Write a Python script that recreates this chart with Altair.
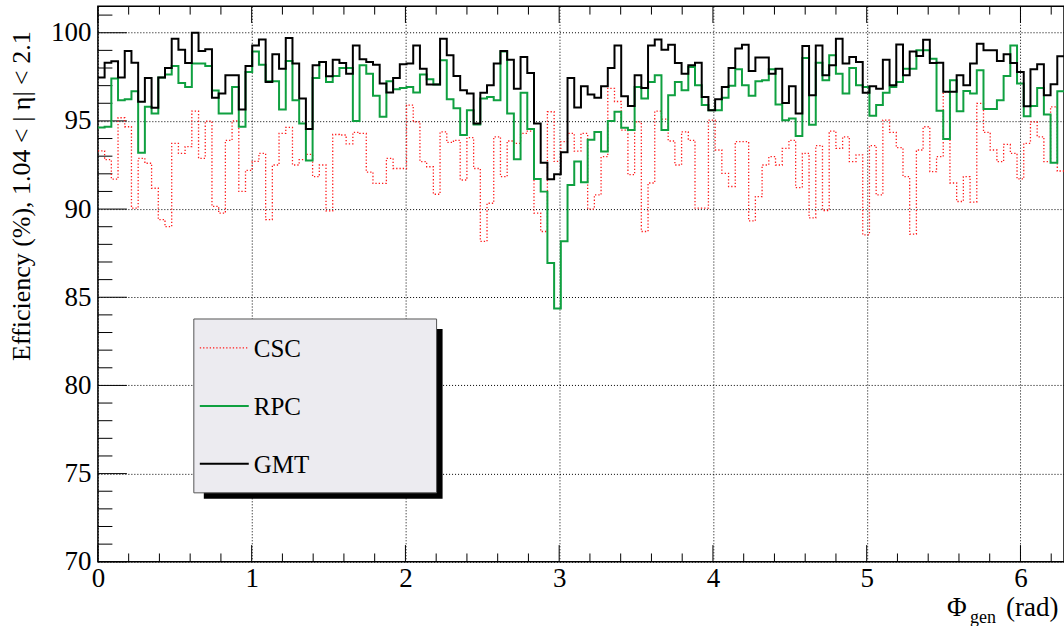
import math

import altair as alt
import pandas as pd

# Efficiency per phi bin (144 bins of 2.5 degrees over 0..2pi)
csc = [
    93.3, 92.8, 91.7, 95.18, 94.67, 90.05, 92.88, 92.6, 91.18, 89.4,
    89.0, 93.73, 93.16, 93.54, 95.55, 92.88, 94.99, 90.15, 89.77, 93.9,
    95.0, 91.0, 92.2, 92.7, 93.16, 89.4, 92.5, 94.29, 94.63, 92.5,
    92.8, 93.1, 91.84, 92.5, 89.9, 94.23, 94.2, 93.7, 94.35, 94.29,
    92.1, 91.46, 91.46, 92.88, 92.3, 92.3, 95.9, 94.95, 92.69, 92.4,
    90.84, 94.38, 93.78, 93.9, 91.65, 94.05, 92.3, 88.17, 90.33, 94.1,
    91.84, 93.86, 93.73, 94.29, 94.42, 89.77, 88.73, 95.52, 92.7, 93.82,
    94.29, 93.29, 94.29, 90.0, 90.8, 92.97, 96.85, 96.1, 94.48, 91.95,
    94.95, 88.73, 91.48, 95.55, 95.1, 93.86, 92.5, 94.38, 93.9, 90.05,
    90.05, 95.04, 93.35, 92.03, 91.28, 93.82, 93.82, 89.33, 90.71, 92.5,
    92.97, 92.5, 93.44, 93.9, 91.22, 93.16, 89.5, 93.6, 89.92, 94.42,
    93.44, 94.1, 92.69, 93.07, 88.54, 93.6, 90.8, 95.04, 94.35, 93.48,
    91.84, 88.58, 93.35, 94.67, 92.12, 92.97, 96.63, 91.48, 90.43, 91.84,
    90.4, 95.99, 94.35, 93.35, 92.69, 93.67, 93.16, 91.71, 93.73, 94.95,
    94.1, 92.69, 95.8, 92.16,
]
rpc = [
    94.63, 94.67, 97.4, 96.17, 96.23, 96.68, 93.2, 95.8, 95.42, 97.46,
    97.63, 98.12, 97.15, 96.93, 98.25, 98.25, 98.12, 96.72, 95.42, 95.42,
    96.93, 94.67, 97.78, 98.94, 98.19, 97.25, 97.25, 95.65, 98.4, 96.17,
    94.86, 92.75, 97.44, 98.34, 97.21, 97.55, 98.0, 98.0, 95.0, 98.15,
    97.68, 96.42, 95.23, 97.25, 96.8, 96.87, 96.93, 96.61, 97.63, 97.36,
    97.06, 98.44, 96.23, 95.72, 94.2, 95.61, 94.8, 96.27, 96.36, 96.17,
    98.94, 95.42, 92.82, 96.59, 94.54, 91.71, 90.99, 86.94, 84.36, 88.17,
    91.37, 92.7, 91.52, 93.93, 94.37, 93.27, 95.0, 95.52, 94.61, 94.48,
    96.93, 96.27, 97.21, 97.59, 94.48, 96.46, 97.21, 96.74, 98.06, 97.02,
    95.9, 95.61, 95.6, 96.31, 96.99, 97.93, 97.02, 96.42, 97.25, 97.31,
    97.93, 95.93, 95.04, 95.14, 94.14, 98.57, 94.78, 98.3, 97.31, 98.72,
    97.68, 96.55, 98.0, 97.02, 96.93, 95.29, 95.9, 96.59, 96.93, 97.21,
    97.96, 97.96, 99.0, 99.0, 98.53, 95.58, 93.97, 97.31, 95.55, 96.7,
    96.55, 97.87, 95.67, 95.67, 96.17, 97.55, 99.28, 97.12, 95.27, 95.85,
    96.87, 95.36, 92.63, 96.68,
]
gmt = [
    97.46, 98.3, 98.38, 97.46, 98.96, 98.3, 96.08, 97.44, 95.74, 97.46,
    98.0, 99.66, 99.04, 98.29, 100.0, 98.96, 99.06, 96.31, 96.55, 97.59,
    97.59, 95.65, 98.12, 99.28, 99.62, 97.21, 98.78, 97.96, 99.7, 98.25,
    96.27, 94.54, 98.15, 98.34, 97.53, 98.47, 98.29, 97.68, 99.28, 98.49,
    98.34, 98.19, 97.12, 96.61, 97.44, 98.21, 98.25, 99.28, 97.96, 97.06,
    97.06, 99.66, 98.72, 97.55, 96.74, 96.55, 94.86, 96.59, 97.02, 98.25,
    98.96, 98.47, 96.83, 98.62, 97.72, 94.86, 92.63, 91.69, 91.97, 93.22,
    97.44, 95.76, 96.97, 96.5, 96.31, 96.97, 98.0, 99.28, 96.4, 95.85,
    97.59, 96.87, 99.28, 99.62, 99.04, 99.32, 98.29, 97.68, 98.15, 98.3,
    96.36, 95.61, 96.23, 96.93, 98.0, 99.1, 99.32, 97.83, 98.59, 98.59,
    97.68, 97.96, 96.02, 96.97, 95.42, 99.25, 96.46, 99.28, 97.59, 98.15,
    99.66, 98.25, 98.62, 98.34, 96.59, 96.97, 96.83, 98.47, 97.02, 99.34,
    97.59, 98.94, 98.68, 99.6, 98.29, 98.3, 96.65, 96.65, 97.59, 97.02,
    98.25, 99.38, 99.0, 99.0, 98.4, 98.78, 98.29, 97.78, 95.83, 97.93,
    98.21, 96.46, 97.08, 98.66,
]

series_names = ["CSC", "RPC", "GMT"]
series_colors = ["#ff1a1a", "#0fa040", "#000000"]

x_labels = [0, 1, 2, 3, 4, 5, 6]
y_labels = [70, 75, 80, 85, 90, 95, 100]

TWO_PI = 2 * math.pi
FONT = "Liberation Serif"
W, H = 967, 556
Y_MIN, Y_MAX = 70, 101.5


def histogram_steps(values, name):
    """Bin edges + contents, last content repeated so the final bin closes at 2pi."""
    width = TWO_PI / len(values)
    edges = [i * width for i in range(len(values))] + [TWO_PI]
    return pd.DataFrame({"phi": edges, "eff": list(values) + [values[-1]], "series": name})


x_scale = alt.Scale(domain=[0, TWO_PI], nice=False, zero=False)
y_scale = alt.Scale(domain=[Y_MIN, Y_MAX], nice=False, zero=False)

# One shared axis definition per channel, reused by every layer so they merge cleanly
grid_style = dict(
    title=None, tickSize=0, domain=False, format="d",
    grid=True, gridDash=[1, 2], gridColor="#000000", gridOpacity=1, gridWidth=1,
    labelFont=FONT, labelFontSize=27, labelColor="#000000",
    labelFlush=False, labelOverlap=False,
)
x_axis = alt.Axis(values=x_labels, labelPadding=4, **grid_style)
y_axis = alt.Axis(values=y_labels, labelPadding=7, **grid_style)


def X(field="phi"):
    return alt.X(f"{field}:Q", scale=x_scale, axis=x_axis)


def Y(field="eff"):
    return alt.Y(f"{field}:Q", scale=y_scale, axis=y_axis)


one = pd.DataFrame({"k": [0]})

# Inward tick marks on the frame
y_major = pd.DataFrame({"eff": y_labels})
y_minor = pd.DataFrame({"eff": [v for v in range(71, 102) if v % 5 != 0]})
x_major = pd.DataFrame({"phi": [float(v) for v in x_labels]})
x_minor = pd.DataFrame({"phi": [round(0.2 * k, 1) for k in range(32) if k % 5 != 0]})

tick_style = dict(color="#000000", strokeWidth=1)
ticks = [
    alt.Chart(y_major).mark_rule(**tick_style).encode(y=Y(), x=alt.value(0), x2=alt.value(29)),
    alt.Chart(y_minor).mark_rule(**tick_style).encode(y=Y(), x=alt.value(0), x2=alt.value(14.5)),
    alt.Chart(x_major).mark_rule(**tick_style).encode(x=X(), y=alt.value(H), y2=alt.value(H - 16.7)),
    alt.Chart(x_minor).mark_rule(**tick_style).encode(x=X(), y=alt.value(H), y2=alt.value(H - 8.3)),
    alt.Chart(x_major).mark_rule(**tick_style).encode(x=X(), y=alt.value(0), y2=alt.value(16.7)),
    alt.Chart(x_minor).mark_rule(**tick_style).encode(x=X(), y=alt.value(0), y2=alt.value(8.3)),
]

# Histograms
line_styles = {
    "CSC": dict(strokeWidth=1.3, strokeDash=[1.3, 2]),
    "RPC": dict(strokeWidth=2),
    "GMT": dict(strokeWidth=2),
}
hist_layers = []
for name, color, values in zip(series_names, series_colors, [csc, rpc, gmt]):
    hist_layers.append(
        alt.Chart(histogram_steps(values, name)).mark_line(
            interpolate="step-after", clip=True, color=color, **line_styles[name]
        ).encode(x=X(), y=Y())
    )

# Legend box with drop shadow
legend_layers = [
    alt.Chart(one).mark_rect(color="#000000").encode(
        x=alt.value(106), x2=alt.value(345), y=alt.value(323), y2=alt.value(493)),
    alt.Chart(one).mark_rect(fill="#ecebf0", stroke="#555555", strokeWidth=1).encode(
        x=alt.value(96), x2=alt.value(339), y=alt.value(313), y2=alt.value(487)),
]
legend_rows = [342, 400, 458]
for name, color, row in zip(series_names, series_colors, legend_rows):
    legend_layers.append(
        alt.Chart(one).mark_rule(color=color, **line_styles[name]).encode(
            x=alt.value(102), x2=alt.value(151), y=alt.value(row)))
    legend_layers.append(
        alt.Chart(one).mark_text(
            text=name, font=FONT, fontSize=25, color="#000000", align="left", baseline="middle"
        ).encode(x=alt.value(156), y=alt.value(row + 1)))

# Axis titles
y_title = alt.Chart(one).mark_text(
    text="Efficiency (%), 1.04 < | η| < 2.1", font=FONT, fontSize=26, color="#000000",
    angle=270, align="right", baseline="alphabetic",
).encode(x=alt.value(-68), y=alt.value(25))

x_title = [
    alt.Chart(one).mark_text(text="Φ", font=FONT, fontSize=27, color="#000000",
                             align="left", baseline="alphabetic").encode(x=alt.value(850), y=alt.value(610)),
    alt.Chart(one).mark_text(text="gen", font=FONT, fontSize=18, color="#000000",
                             align="left", baseline="alphabetic").encode(x=alt.value(873), y=alt.value(617)),
    alt.Chart(one).mark_text(text="(rad)", font=FONT, fontSize=27, color="#000000",
                             align="left", baseline="alphabetic").encode(x=alt.value(909), y=alt.value(610)),
]

chart = alt.layer(
    *ticks, *hist_layers, *legend_layers, y_title, *x_title
).properties(
    width=W, height=H,
    padding={"left": 98, "top": 6, "right": 0, "bottom": 64},
    autosize=alt.AutoSizeParams(type="none"),
    background="#ffffff",
).configure_view(
    stroke="#000000", strokeWidth=1.5, fill="#ffffff",
)

chart.save("out.html", embed_options={"renderer": "svg", "actions": False})
